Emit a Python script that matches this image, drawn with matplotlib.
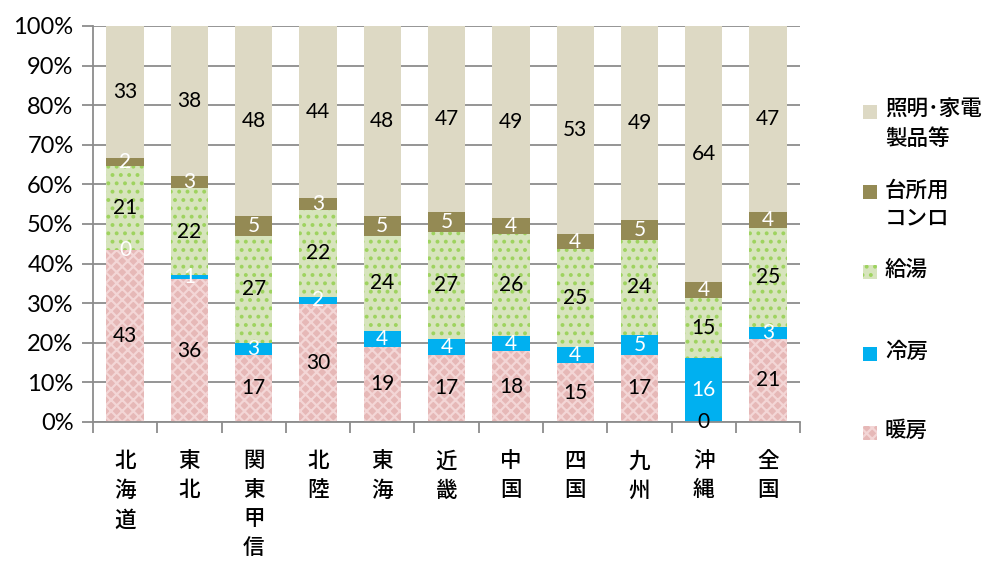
import matplotlib
matplotlib.use("Agg")
import matplotlib.pyplot as plt
from matplotlib.patches import Rectangle
import numpy as np

plt.rcParams['font.family'] = ['Lato', 'Noto Sans CJK JP', 'DejaVu Sans']
plt.rcParams['hatch.linewidth'] = 1.6

regions = ['北海道', '東北', '関東甲信', '北陸', '東海', '近畿', '中国', '四国', '九州', '沖縄', '全国']
heating = [43, 36, 17, 30, 19, 17, 18, 15, 17, 0, 21]
cooling = [0, 1, 3, 2, 4, 4, 4, 4, 5, 16, 3]
hot_water = [21, 22, 27, 22, 24, 27, 26, 25, 24, 15, 25]
stove = [2, 3, 5, 3, 5, 5, 4, 4, 5, 4, 4]
lighting = [33, 38, 48, 44, 48, 47, 49, 53, 49, 64, 47]

series_names = ['暖房', '冷房', '給湯', '台所用\nコンロ', '照明･家電\n製品等']
series = [heating, cooling, hot_water, stove, lighting]
faces = ['#E6B8B7', '#00B0F0', '#D7E4BD', '#948A54', '#DDD9C4']
hatch_cols = ['#F3D6D6', '#00B0F0', '#9ED35F', '#948A54', '#DDD9C4']
hatches = ['xxx', None, '..', None, None]
label_cols = ['black', 'white', 'black', 'white', 'black']

fig = plt.figure(figsize=(10.04, 5.61), dpi=100)
ax = fig.add_axes([0.0926, 0.2478, 0.7044, 0.7059])

data = np.array(series, dtype=float)
pct = data / data.sum(axis=0) * 100
x = np.arange(len(regions))
bottom = np.zeros(len(regions))
for i in range(len(series)):
    ax.bar(x, pct[i], 0.58, bottom=bottom, color=faces[i],
           edgecolor=hatch_cols[i], linewidth=0, hatch=hatches[i], zorder=2)
    for j in range(len(regions)):
        ax.text(x[j], bottom[j] + pct[i][j] / 2, str(series[i][j]),
                ha='center', va='center', fontsize=15, color=label_cols[i], zorder=3)
    bottom += pct[i]

ax.set_xlim(-0.5, len(regions) - 0.5)
ax.set_ylim(0, 100)
ax.set_yticks(np.arange(0, 101, 10))
ax.set_yticklabels([f'{v}%' for v in range(0, 101, 10)], fontsize=17)
ax.yaxis.grid(True, color='#8C8C8C', linewidth=1.3, zorder=0)
ax.set_axisbelow(True)

ax.set_xticks(np.arange(-0.5, len(regions), 1.0))
ax.set_xticklabels([])
ax.set_xticks(x, minor=True)
ax.set_xticklabels(['\n'.join(r) for r in regions], minor=True, fontsize=15.5,
                   fontweight='medium', va='top', linespacing=1.56)
ax.tick_params(axis='x', which='minor', length=0, pad=21)
ax.tick_params(axis='x', which='major', length=8, color='#8C8C8C', width=1.3)
ax.tick_params(axis='y', length=8, color='#8C8C8C', width=1.3, pad=6)

for s in ['top', 'right']:
    ax.spines[s].set_visible(False)
for s in ['left', 'bottom']:
    ax.spines[s].set_color('#8C8C8C')
    ax.spines[s].set_linewidth(1.3)

# legend drawn on the right
leg_y = [433, 354, 272, 192, 112]
for i in range(len(series)):
    y = leg_y[i]
    fig.patches.append(Rectangle((863 / 1004, 1 - (y + 7) / 561), 14 / 1004, 14 / 561,
                                 transform=fig.transFigure, facecolor=faces[i],
                                 edgecolor=hatch_cols[i], linewidth=0, hatch=hatches[i]))
    fig.text(885 / 1004, 1 - (y - 12) / 561, series_names[i], fontsize=15.5,
             fontweight='medium', va='top', ha='left', linespacing=1.5)

fig.savefig('out.png', dpi=100)
